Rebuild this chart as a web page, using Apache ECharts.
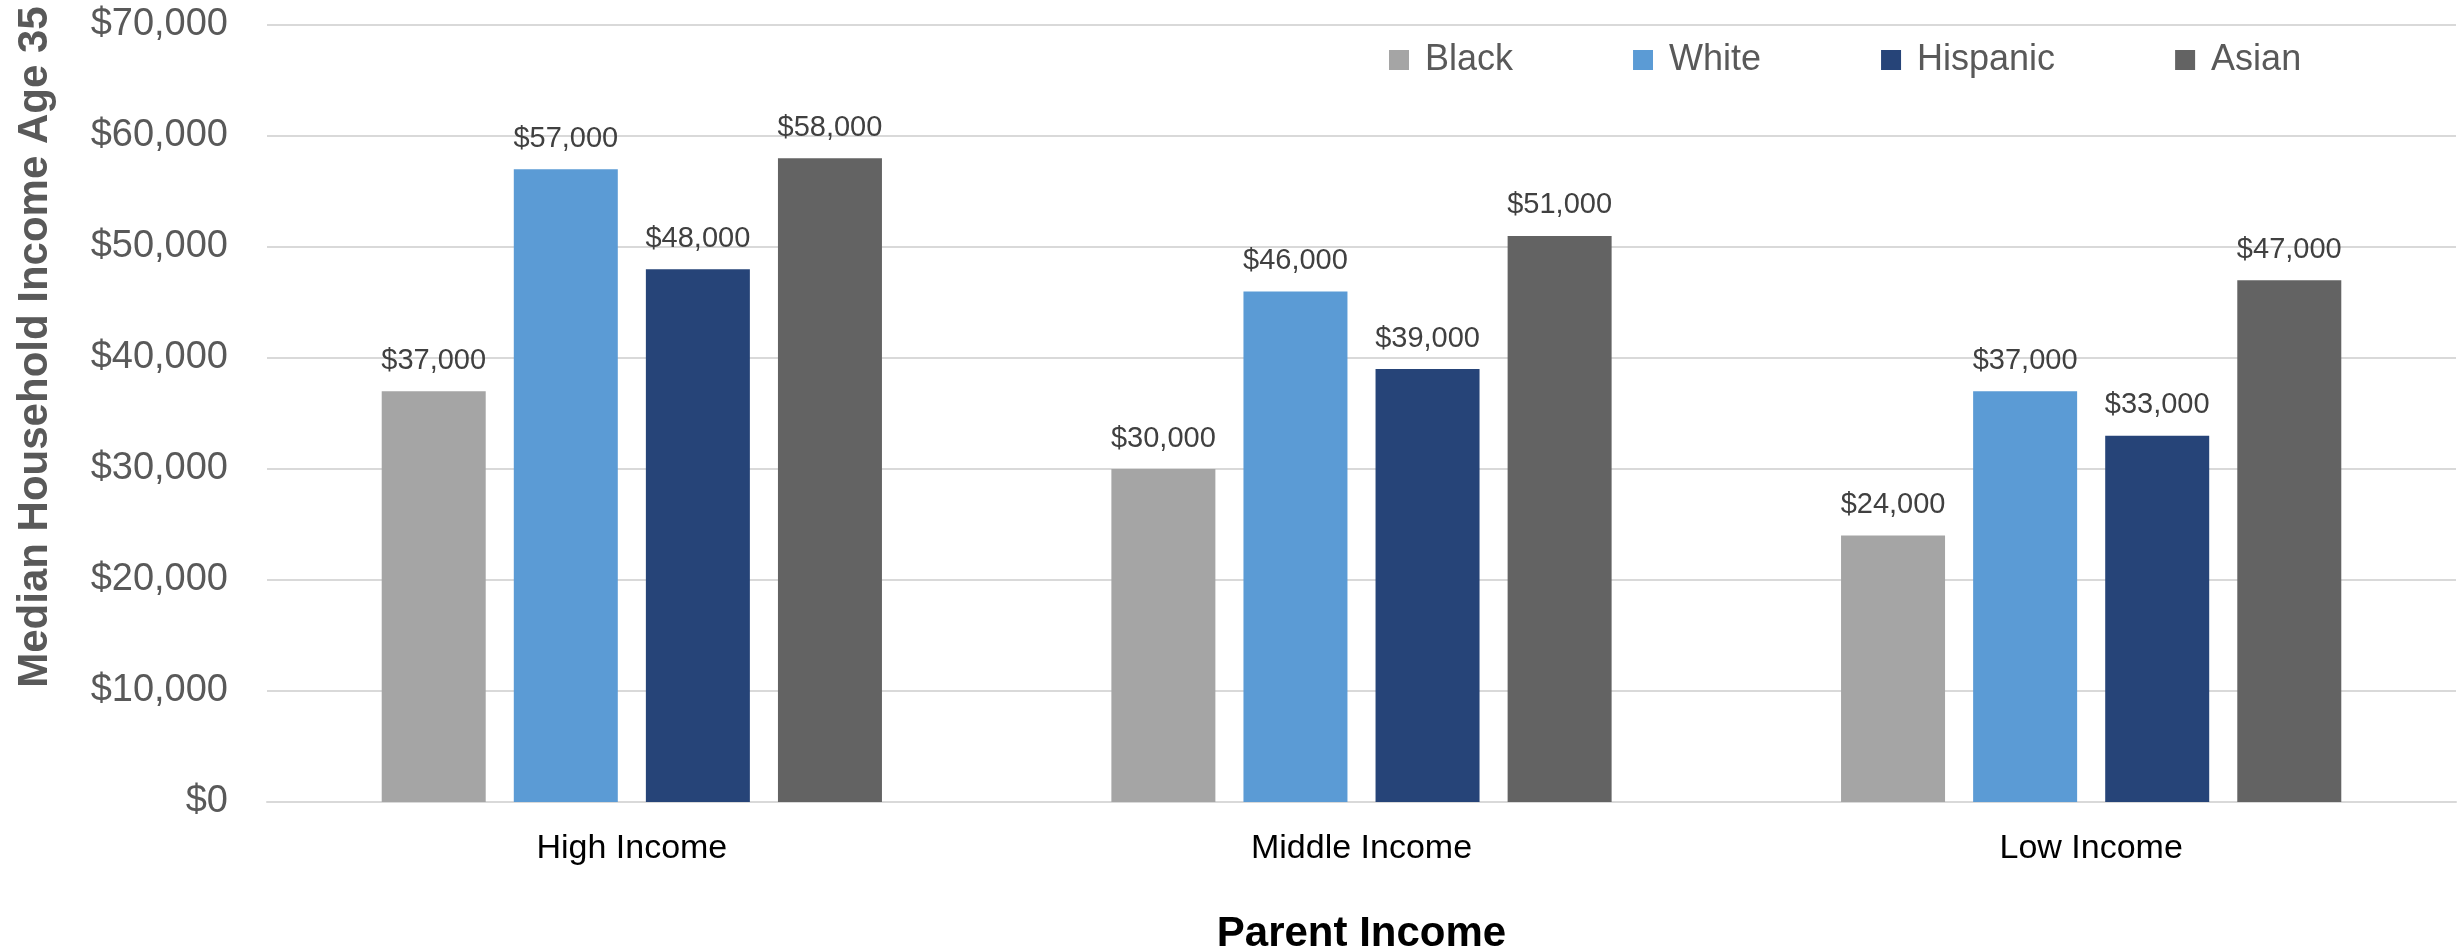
<!DOCTYPE html>
<html>
<head>
<meta charset="utf-8">
<title>Median Household Income Age 35</title>
<script src="https://cdn.jsdelivr.net/npm/echarts@6/dist/echarts.min.js"></script>
<style>
  html, body { margin: 0; padding: 0; background: #fff; }
  #main { width: 2461px; height: 951px; }
</style>
</head>
<body>
<div id="main"></div>
<script>
// data
const categories = ['High Income', 'Middle Income', 'Low Income'];
const seriesNames = ['Black', 'White', 'Hispanic', 'Asian'];
const black = [37000, 30000, 24000];
const white = [57000, 46000, 37000];
const hispanic = [48000, 39000, 33000];
const asian = [58000, 51000, 47000];
const colors = ['#a5a5a5', '#5b9bd5', '#264478', '#636363'];

const font = '"Liberation Sans", Arial, sans-serif';
const money = v => '$' + Number(v).toLocaleString('en-US');

function barSeries(name, data, color) {
  return {
    name: name,
    type: 'bar',
    data: data,
    barWidth: 104,
    barGap: '27%',
    itemStyle: { color: color },
    label: {
      show: true,
      position: 'top',
      distance: 16,
      fontFamily: font,
      fontSize: 29,
      color: '#404040',
      formatter: p => money(p.value)
    }
  };
}

const chart = echarts.init(document.getElementById('main'));
const option = {
  animation: false,
  backgroundColor: '#fff',
  textStyle: { fontFamily: font },
  // fixed plot box, don't let v6 shrink it to fit the axis names
  grid: { left: 267, right: 5, top: 25, bottom: 149, containLabel: false, outerBoundsMode: 'none' },
  legend: {
    data: seriesNames,
    left: 1384,
    top: 37,
    itemWidth: 20,
    itemHeight: 20,
    itemGap: 120,
    icon: 'rect',
    textStyle: { fontFamily: font, fontSize: 36, color: '#595959', padding: [0, 0, 0, 11] }
  },
  // y title sits higher than the plot middle in the original, so draw it by hand
  graphic: [{
    type: 'text',
    x: 35,
    y: 347,
    rotation: Math.PI / 2,
    style: {
      text: 'Median Household Income Age 35',
      font: 'bold 42px ' + font,
      fill: '#595959',
      align: 'center',
      verticalAlign: 'middle'
    }
  }],
  xAxis: {
    type: 'category',
    data: categories,
    name: 'Parent Income',
    nameLocation: 'middle',
    nameGap: 111,
    nameTextStyle: { fontFamily: font, fontSize: 42, fontWeight: 'bold', color: '#000' },
    axisTick: { show: false },
    axisLine: { lineStyle: { color: '#d9d9d9', width: 2 } },
    axisLabel: { fontFamily: font, fontSize: 34, color: '#000', margin: 30 }
  },
  yAxis: {
    type: 'value',
    min: 0,
    max: 70000,
    interval: 10000,
    axisLine: { show: false },
    axisTick: { show: false },
    splitLine: { lineStyle: { color: '#d9d9d9', width: 2 } },
    axisLabel: { fontFamily: font, fontSize: 38, color: '#595959', margin: 39, formatter: money }
  },
  series: [
    barSeries(seriesNames[0], black, colors[0]),
    barSeries(seriesNames[1], white, colors[1]),
    barSeries(seriesNames[2], hispanic, colors[2]),
    barSeries(seriesNames[3], asian, colors[3])
  ]
};
chart.setOption(option);
</script>
</body>
</html>
